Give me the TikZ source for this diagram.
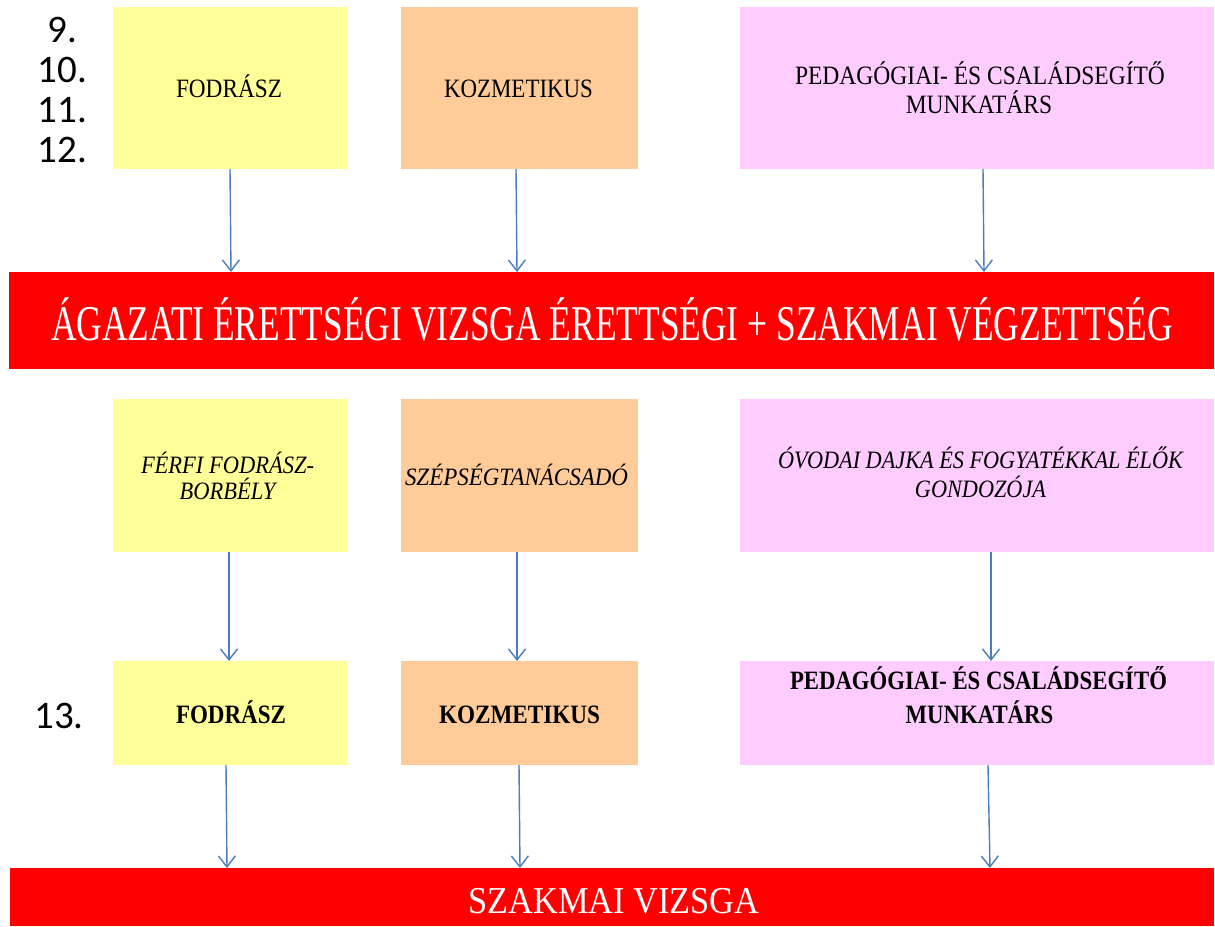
\documentclass[tikz,border=0pt]{standalone}
\usepackage{fontspec}
\setmainfont{Liberation Serif}
\newfontfamily\numfont{Carlito}
\usetikzlibrary{arrows.meta}
\definecolor{cyel}{HTML}{FFFF99}
\definecolor{corg}{HTML}{FFCC99}
\definecolor{cpnk}{HTML}{FFCCFF}
\definecolor{cred}{HTML}{FF0000}
\definecolor{carr}{HTML}{4A7EBB}
\newlength\fitlen
\newcommand\fitw[2]{\settowidth\fitlen{#2}\pgfmathsetmacro\fitsx{#1/\fitlen}\xdef\lastsx{\fitsx}\scalebox{\fitsx}[1]{#2}}
\newcommand\samesx[1]{\scalebox{\lastsx}[1]{#1}}
\tikzset{
  box/.style={inner sep=0pt, outer sep=0pt, anchor=north west, draw=none},
  txt/.style={inner sep=0pt, outer sep=0pt, anchor=base},
  ftop/.style={font=\fontsize{26.5}{29}\selectfont},
  fmid/.style={font=\fontsize{25}{28}\itshape\selectfont},
  flow/.style={font=\fontsize{26.5}{29}\bfseries\selectfont},
  num/.style={inner sep=0pt, outer sep=0pt, anchor=base, font=\numfont\fontsize{39}{40}\selectfont},
  arr/.style={draw=carr, line width=1.4pt, -{Straight Barb[length=11pt,width=17pt,line width=1.4pt]}}
}
\begin{document}
\begin{tikzpicture}[x=1pt,y=-1pt]
\useasboundingbox (0,0) rectangle (1215,926);
% numbers
\node[num] (n9) at (62.5,42) {9.};
\node[num] (n10) at (62.5,82) {10.};
\node[num] (n11) at (62.5,122) {11.};
\node[num] (n12) at (62.5,162) {12.};
\node[num] (n13) at (59,728) {13.};
% top row
\node[box, fill=cyel, minimum width=234pt, minimum height=162pt] (ya) at (113,7) {};
\node[box, fill=corg, minimum width=237pt, minimum height=162pt] (oa) at (401,7) {};
\node[box, fill=cpnk, minimum width=474pt, minimum height=162pt] (pa) at (740,7) {};
\node[txt, ftop] (yat) at (229,97) {\fitw{106}{FODRÁSZ}};
\node[txt, ftop] (oat) at (518.5,97) {\fitw{149}{KOZMETIKUS}};
\node[txt, ftop] (pat1) at (980,84) {\fitw{370}{PEDAGÓGIAI- ÉS CSALÁDSEGÍTŐ}};
\node[txt, ftop] (pat2) at (979,113) {\samesx{MUNKATÁRS}};
% banner 1
\node[box, fill=cred, minimum width=1205pt, minimum height=97pt] (b1) at (9,272) {};
\node[txt, text=white, font=\fontsize{50}{54}\selectfont] (b1t) at (612,340) {\fitw{1122}{ÁGAZATI ÉRETTSÉGI VIZSGA ÉRETTSÉGI + SZAKMAI VÉGZETTSÉG}};
% middle row
\node[box, fill=cyel, minimum width=234pt, minimum height=153pt] (yb) at (113,399) {};
\node[box, fill=corg, minimum width=237pt, minimum height=153pt] (ob) at (401,399) {};
\node[box, fill=cpnk, minimum width=474pt, minimum height=153pt] (pb) at (740,399) {};
\node[txt, fmid] (ybt1) at (227.5,473) {\fitw{173}{FÉRFI FODRÁSZ-}};
\node[txt, fmid] (ybt2) at (227.5,499) {\samesx{BORBÉLY}};
\node[txt, fmid] (obt) at (516.5,485) {\fitw{223}{SZÉPSÉGTANÁCSADÓ}};
\node[txt, fmid] (pbt1) at (980.5,468) {\fitw{405}{ÓVODAI DAJKA ÉS FOGYATÉKKAL ÉLŐK}};
\node[txt, fmid] (pbt2) at (980.5,497) {\samesx{GONDOZÓJA}};
% lower row
\node[box, fill=cyel, minimum width=234pt, minimum height=104pt] (yc) at (113,661) {};
\node[box, fill=corg, minimum width=237pt, minimum height=104pt] (oc) at (401,661) {};
\node[box, fill=cpnk, minimum width=474pt, minimum height=104pt] (pc) at (740,661) {};
\node[txt, flow] (yct) at (231,723) {\fitw{110}{FODRÁSZ}};
\node[txt, flow] (oct) at (519.5,723) {\fitw{161}{KOZMETIKUS}};
\node[txt, flow] (pct1) at (978.5,689) {\fitw{377}{PEDAGÓGIAI- ÉS CSALÁDSEGÍTŐ}};
\node[txt, flow] (pct2) at (979.5,723) {\samesx{MUNKATÁRS}};
% banner 2
\node[box, fill=cred, minimum width=1204pt, minimum height=58pt] (b2) at (10,868) {};
\node[txt, text=white, font=\fontsize{38}{42}\selectfont] (b2t) at (614,913) {\fitw{291}{SZAKMAI VIZSGA}};
% arrows
\draw[arr] (ya.south) -- ([xshift=1pt]ya.south |- b1.north);
\draw[arr] ([xshift=-3.5pt]oa.south) -- ([xshift=-2.5pt]oa.south |- b1.north);
\draw[arr] ([xshift=6pt]pa.south) -- ([xshift=7pt]pa.south |- b1.north);
\draw[arr] ([xshift=-1pt]yb.south) -- ([xshift=-1pt]yb.south |- yc.north);
\draw[arr] ([xshift=-2.5pt]ob.south) -- ([xshift=-2.5pt]ob.south |- oc.north);
\draw[arr] ([xshift=14pt]pb.south) -- ([xshift=14pt]pb.south |- pc.north);
\draw[arr] ([xshift=-4pt]yc.south) -- ([xshift=-3pt]yc.south |- b2.north);
\draw[arr] ([xshift=-0.5pt]oc.south) -- ([xshift=0.5pt]oc.south |- b2.north);
\draw[arr] ([xshift=11pt]pc.south) -- ([xshift=13pt]pc.south |- b2.north);
\end{tikzpicture}
\end{document}
